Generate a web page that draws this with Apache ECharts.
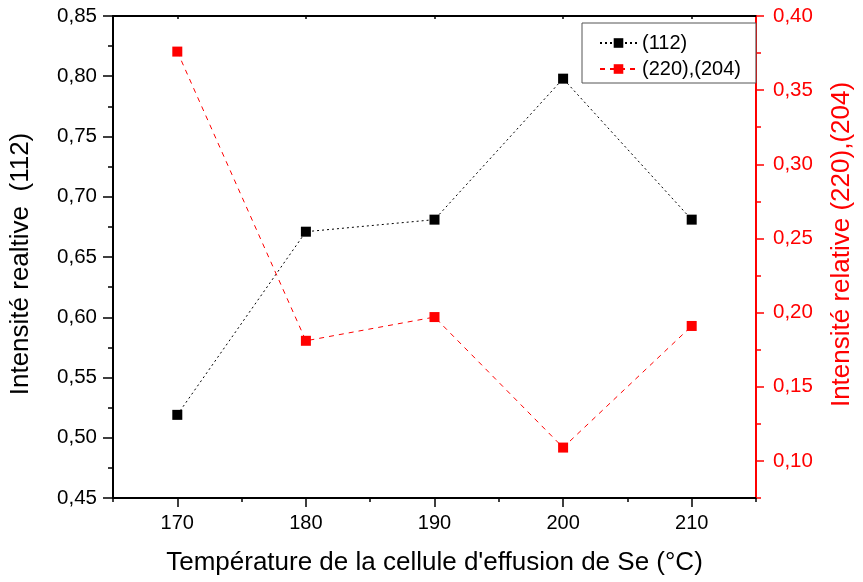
<!DOCTYPE html>
<html>
<head>
<meta charset="utf-8">
<script src="https://cdn.jsdelivr.net/npm/echarts@6/dist/echarts.min.js"></script>
<style>html,body{margin:0;padding:0;background:#fff}#c{width:863px;height:582px}</style>
</head>
<body>
<div id="c"></div>
<script>
var temps = [170, 180, 190, 200, 210];
var s112 = [0.519, 0.671, 0.681, 0.798, 0.681];
var s220 = [0.376, 0.181, 0.197, 0.109, 0.191];
var xTicks = [170, 180, 190, 200, 210];
var yLeftTicks = [0.45, 0.50, 0.55, 0.60, 0.65, 0.70, 0.75, 0.80, 0.85];
var yRightTicks = [0.10, 0.15, 0.20, 0.25, 0.30, 0.35, 0.40];
var name112 = '(112)';
var name220 = '(220),(204)';

var FONT = 'Liberation Sans';
function comma(v){ return v.toFixed(2).replace('.', ','); }

var chart = echarts.init(document.getElementById('c'), null, {renderer:'canvas'});
chart.setOption({
  animation: false,
  textStyle: {fontFamily: FONT},
  grid: {left: 113, right: 98, top: 16, bottom: 84, containLabel: false},
  legend: {
    orient: 'vertical', left: 582, top: 23,
    data: [name112, name220],
    backgroundColor: '#fff', borderColor: '#555', borderWidth: 1,
    padding: [10, 15, 4, 17], itemGap: 6, itemWidth: 37, itemHeight: 12,
    textStyle: {fontFamily: FONT, fontSize: 20, color: '#000'}
  },
  xAxis: [
    {type: 'value', min: 165, max: 215, position: 'bottom',
     name: "Température de la cellule d'effusion de Se (°C)", nameLocation: 'middle', nameGap: 52,
     nameTextStyle: {fontFamily: FONT, fontSize: 26, color: '#000'},
     axisLine: {lineStyle: {color: '#000', width: 2}},
     axisTick: {show: true, inside: false, length: 9, customValues: xTicks, lineStyle: {color: '#000', width: 1.5}},
     axisLabel: {customValues: xTicks, fontSize: 20, color: '#000', margin: 15, fontFamily: FONT},
     splitLine: {show: false}},
    {type: 'value', min: 165, max: 215, interval: 10, position: 'bottom',
     axisLine: {show: false},
     axisTick: {show: true, length: 4, lineStyle: {color: '#000', width: 1.5}},
     axisLabel: {show: false}, splitLine: {show: false}},
    {type: 'value', min: 165, max: 215, position: 'top',
     axisLine: {lineStyle: {color: '#000', width: 2}},
     axisTick: {show: true, inside: true, length: 3, customValues: xTicks, lineStyle: {color: '#000', width: 1.5}},
     axisLabel: {show: false}, splitLine: {show: false}}
  ],
  yAxis: [
    {type: 'value', min: 0.45, max: 0.85, interval: 0.05, position: 'left',
     name: 'Intensité realtive  (112)', nameLocation: 'middle', nameGap: 79,
     nameTextStyle: {fontFamily: FONT, fontSize: 26, color: '#000', padding: [0, 14, 0, 0]},
     axisLine: {lineStyle: {color: '#000', width: 2}},
     axisTick: {show: true, length: 10, lineStyle: {color: '#000', width: 1.5}},
     minorTick: {show: true, splitNumber: 2, length: 5, lineStyle: {color: '#000', width: 1.5}},
     axisLabel: {fontSize: 20.5, color: '#000', margin: 16, fontFamily: FONT, formatter: comma},
     splitLine: {show: false}, minorSplitLine: {show: false}},
    {type: 'value', min: 0.075, max: 0.40, position: 'right',
     name: 'Intensité relative (220),(204)', nameLocation: 'middle', nameGap: 73,
     nameTextStyle: {fontFamily: FONT, fontSize: 26, color: '#ff0000', padding: [0, 0, 0, 25]},
     axisLine: {lineStyle: {color: '#ff0000', width: 2}},
     axisTick: {show: true, length: 8, customValues: yRightTicks, lineStyle: {color: '#ff0000', width: 1.5}},
     axisLabel: {customValues: yRightTicks, fontSize: 20.5, color: '#ff0000', margin: 17, fontFamily: FONT, formatter: comma},
     splitLine: {show: false}},
    {type: 'value', min: 0.075, max: 0.40, interval: 0.05, position: 'right',
     axisLine: {show: false},
     axisTick: {show: true, length: 5, lineStyle: {color: '#ff0000', width: 1.5}},
     axisLabel: {show: false}, splitLine: {show: false}}
  ],
  series: [
    {name: name112, type: 'line', xAxisIndex: 0, yAxisIndex: 0,
     data: temps.map(function(t, i){ return [t, s112[i]]; }),
     symbol: 'rect', symbolSize: 10,
     itemStyle: {color: '#000'},
     lineStyle: {color: '#000', width: 1, type: [2, 3]}},
    {name: name220, type: 'line', xAxisIndex: 0, yAxisIndex: 1,
     data: temps.map(function(t, i){ return [t, s220[i]]; }),
     symbol: 'rect', symbolSize: 10,
     itemStyle: {color: '#ff0000'},
     lineStyle: {color: '#ff0000', width: 1, type: [5, 5]}}
  ]
});
</script>
</body>
</html>
